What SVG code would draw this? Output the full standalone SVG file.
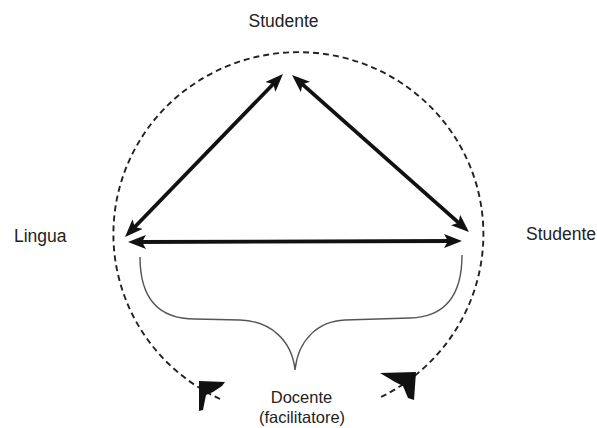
<svg xmlns="http://www.w3.org/2000/svg" width="597" height="428" viewBox="0 0 597 428">
<style>
text{font-family:"Liberation Sans",Arial,sans-serif;font-size:17.5px;fill:#222}
.arr{stroke:#111;stroke-width:3.8;fill:none;marker-start:url(#ah);marker-end:url(#ah)}
.circ{stroke:#222;stroke-width:1.9;fill:none;stroke-dasharray:6 4}
.brace{stroke:#555;stroke-width:1.4;fill:none}
.head{fill:#111}
.small{font-size:16.5px}
</style>
<defs>
<marker id="ah" viewBox="0 0 18 14" refX="10" refY="7" markerWidth="18" markerHeight="14" markerUnits="userSpaceOnUse" orient="auto-start-reverse">
<path d="M0,0 L18,7 L0,14 L4,7 z" fill="#111"/>
</marker>
</defs>
<rect width="597" height="428" fill="#fff"/>
<g id="connectors">
<path class="circ" d="M220,399 A185,182 0 1 1 381,397"/>
<polygon class="head" points="199,381 225,382 222,386 213,392 206,395 203,410 199,411"/>
<polygon class="head" points="380,373 416,372 414,400 408,398 403,386 395,382"/>
<line class="arr" x1="130.6" y1="231.3" x2="277.4" y2="79.7"/>
<line class="arr" x1="298" y1="80.3" x2="463" y2="226.7"/>
<line class="arr" x1="136" y1="242" x2="454" y2="241"/>
<path class="brace" d="M140,257 C140,300 160,319 195,319 L240,320 C270,321 292,340 295,370 C298,340 318,321 345,320 L410,318 C445,317 462,295 462,255"/>
</g>
<g id="studente-top"><text x="283.5" y="27" text-anchor="middle">Studente</text></g>
<g id="lingua"><text x="14" y="242">Lingua</text></g>
<g id="studente-right"><text x="526" y="240">Studente</text></g>
<g id="docente"><text class="small" x="301.5" y="403" text-anchor="middle">Docente</text><text class="small" x="302" y="423" text-anchor="middle">(facilitatore)</text></g>
</svg>
